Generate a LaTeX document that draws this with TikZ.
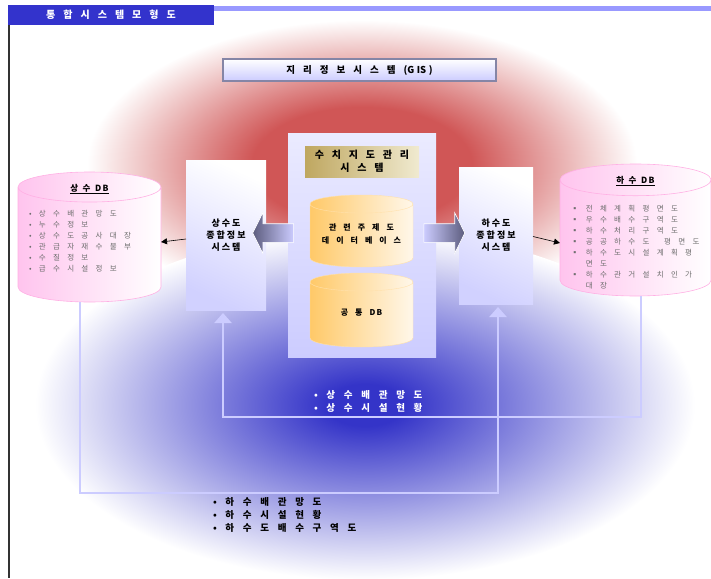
\documentclass[tikz,border=0pt]{standalone}
\usepackage{fontspec}
\setmainfont{Noto Sans CJK KR}
\usetikzlibrary{arrows.meta,positioning,calc,shapes.geometric,shapes.arrows}
\definecolor{hdrblue}{HTML}{3333CC}
\definecolor{rulelav}{HTML}{9999FF}
\definecolor{lav}{HTML}{CCCCFF}
\definecolor{glowred}{HTML}{D05656}
\definecolor{glowblue}{HTML}{3434C8}
\definecolor{dbpink}{HTML}{FFC4EE}
\definecolor{dbedge}{HTML}{FFB0E4}
\definecolor{cylorange}{HTML}{FFC968}
\definecolor{cylcream}{HTML}{FFF7EA}
\definecolor{goldtan}{HTML}{BFA760}
\definecolor{goldlt}{HTML}{F0EAD0}
\definecolor{arrdark}{HTML}{5C5C7E}
\definecolor{listgrey}{HTML}{6E6E6E}

\pgfdeclareradialshading{redglow}{\pgfpoint{0bp}{0bp}}{color(0bp)=(glowred); color(10bp)=(glowred); color(25bp)=(white); color(50bp)=(white)}
\pgfdeclareradialshading{blueglow}{\pgfpoint{0bp}{0bp}}{color(0bp)=(glowblue); color(3bp)=(glowblue); color(25bp)=(white); color(50bp)=(white)}

\begin{document}
\begin{tikzpicture}[x=1pt, y=-1pt,
  every node/.style={inner sep=0pt, outer sep=0pt},
  gap/.style={execute at begin node={\spaceskip=#1\relax}},
  banner/.style={fill=hdrblue, text=white, font=\bfseries\fontsize{10}{12}\selectfont,
                 minimum width=206, minimum height=20, gap=8pt},
  bevel/.style={draw=lav!65!black, line width=1.2pt, top color=white, bottom color=lav,
                font=\bfseries\fontsize{9.5}{11}\selectfont,
                minimum width=273, minimum height=22, gap=8pt},
  sysbox/.style={top color=white, bottom color=lav!90, shading angle=-25, align=center,
                 font=\bfseries\fontsize{9}{12}\selectfont, gap=2pt},
  panel/.style={top color=lav!40, bottom color=lav, minimum width=148, minimum height=224},
  tag/.style={left color=goldtan, right color=goldlt, align=center,
              font=\bfseries\fontsize{10}{13}\selectfont, gap=7.8pt,
              minimum width=114, minimum height=31},
  cyl/.style={cylinder, shape border rotate=90, shape aspect=0.175, inner xsep=51.5pt,
              left color=cylorange, right color=cylcream, draw=cylorange!55, line width=0.4pt},
  cyltext/.style={align=center, font=\bfseries\fontsize{8}{13}\selectfont, gap=7pt},
  db/.style={cylinder, shape border rotate=90, shape aspect=0.21,
             left color=dbpink, right color=white, draw=dbedge, line width=0.6pt},
  dbhead/.style={font=\bfseries\fontsize{8.5}{10}\selectfont, gap=4.5pt},
  dblist/.style={anchor=north west, align=left, text=listgrey,
                 font=\fontsize{7.5}{11}\selectfont, gap=7.3pt},
  fat/.style={single arrow, single arrow head extend=11pt, single arrow tip angle=127,
              minimum height=41, inner ysep=9pt, draw=white, line width=0.6pt},
  ptr/.style={-{Triangle[width=6pt,length=6pt]}, line width=0.6pt},
  feed/.style={lav, line width=2.5pt, shorten >=3pt, -{Triangle[width=17pt,length=10pt]}},
  note/.style={align=left, font=\bfseries\fontsize{9.5}{13}\selectfont, gap=8.7pt},
]
  \useasboundingbox (0,0) rectangle (711,578);

  %% ── glow behind ──
  \shade[shading=redglow] (362,165) ellipse (275pt and 145pt);
  \shade[shading=blueglow] (365,405) ellipse (330pt and 175pt);

  %% ── header ──
  \node[banner] (banner) at (111,15) {통 합 시 스 템 모 형 도};
  \draw[rulelav, line width=4.5pt] ([yshift=-3.3pt]banner.north east) -- ++(497,0);
  \draw[black!80, line width=1.8pt] ([xshift=1pt]banner.south west) -- ++(0,553);

  \node[bevel] (gis) at (359.5,70) {지 리 정 보 시 스 템 {\spaceskip=2.5pt(G IS )}};

  %% ── 수치지도관리 시스템 ──
  \node[panel] (panel) at (362,245) {};
  \node[tag, below=13pt of panel.north] (ngis) {수 치 지 도 관 리\\시 스 템};
  \node[cyl, minimum height=72, anchor=shape center] (themedb) at (361.5,231) {};
  \node[cyl, minimum height=74, below=6pt of themedb] (commondb) {};
  \node[cyltext] at ([yshift=-3.5pt]themedb.shape center) {관 련 주 제 도\\데 이 터 베 이 스};
  \node[cyltext] at ([yshift=-3pt]commondb.shape center) {공 통 D\,B};

  %% ── 종합정보 시스템 ──
  \node[sysbox, minimum width=80, minimum height=150] (waterbox) at (226,235)
    {상 수 도\\종 합 정 보\\시 스 템};
  \node[sysbox, minimum width=74, minimum height=137] (sewerbox) at (496,235.5)
    {하 수 도\\종 합 정 보\\시 스 템};

  \node[fat, shape border rotate=180, left color=arrdark, right color=lav] (toleft) at (275.5,233) {};
  \node[fat, left color=lav, right color=arrdark] (toright) at (442,233) {};

  %% ── 상수 DB ──
  \node[db, inner xsep=71.5pt, minimum height=130, anchor=shape center] (waterdb) at (89.5,237) {};
  \node[dbhead] (waterhead) at (89.5,189) {\underline{상 수 D\,B}};
  \node[dblist] (waterlist) at (29,210) {%
    • 상 수 배 관 망 도\\
    • 누 수 정 보\\
    • 상 수 도 공 사 대 장\\
    • 관 급 자 재 수 불 부\\
    • 수 질 정 보\\
    • 급 수 시 설 정 보};

  %% ── 하수 DB ──
  \node[db, inner xsep=75.5pt, minimum height=132, anchor=shape center] (sewerdb) at (635.5,230) {};
  \node[dbhead] (sewerhead) at (635.5,181) {\underline{하 수 D\,B}};
  \node[dblist] (sewerlist) at (571,205) {%
    ▪ 전 체 계 획 평 면 도\\
    ▪ 우 수 배 수 구 역 도\\
    ▪ 하 수 처 리 구 역 도\\
    ▪ 공 공 하 수 도 \ 평 면 도\\
    ▪ 하 수 도 시 설 계 획 평\\
    \phantom{▪} 면 도\\
    ▪ 하 수 관 거 설 치 인 가\\
    \phantom{▪} 대 장};

  \draw[ptr] ([yshift=-4pt]waterbox.west) -- ([yshift=-5pt]waterdb.shape center -| waterdb.east);
  \draw[ptr] ([yshift=-1pt]sewerbox.east) -- ([yshift=-13pt]sewerdb.shape center -| sewerdb.west);

  %% ── 연계 흐름 ──
  \coordinate (lowrun) at (300,493);
  \coordinate (midrun) at (400,417);
  \draw[feed] ([xshift=-9.5pt]waterdb.south) |- (lowrun) -| ([xshift=2pt]sewerbox.south);
  \draw[feed] ([xshift=5.5pt]sewerdb.south) |- (midrun) -| ([xshift=-3pt]waterbox.south);

  \node[note, text=white, anchor=west] (waterlbl) at (314,401)
    {• 상 수 배 관 망 도\\• 상 수 시 설 현 황};
  \node[note, anchor=north west] (sewerlbl) at (213,497)
    {• 하 수 배 관 망 도\\• 하 수 시 설 현 황\\• 하 수 도 배 수 구 역 도};
\end{tikzpicture}
\end{document}
